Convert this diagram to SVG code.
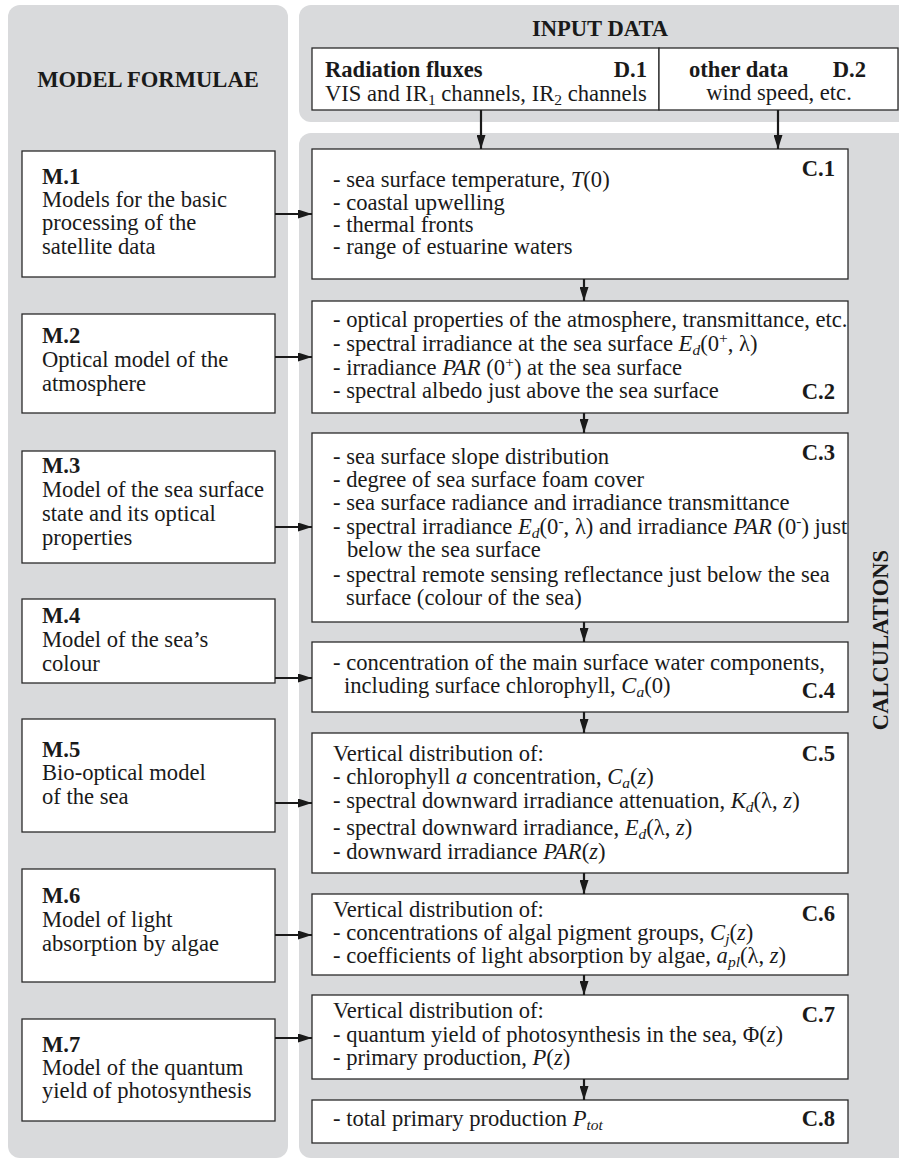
<svg xmlns="http://www.w3.org/2000/svg" width="899" height="1159" viewBox="0 0 899 1159">
  <style>
    text { font-family: "Liberation Serif", "Times New Roman", serif; font-size: 22.6px; fill: #1a1a1a; }
    .b { font-weight: bold; }
    .i { font-style: italic; }
    .panel { fill: #d9dadc; }
    .box { fill: #ffffff; stroke: #2a2a2a; stroke-width: 1.3; }
    .arrow { stroke: #1a1a1a; stroke-width: 2.2; fill: none; marker-end: url(#head); }
    .sub { font-size: 15.5px; }
  </style>
  <defs>
    <marker id="head" markerUnits="userSpaceOnUse" markerWidth="15" markerHeight="9" refX="14" refY="4.5" orient="auto">
      <path d="M0,0 L14,4.5 L0,9 z" fill="#1a1a1a"/>
    </marker>
  </defs>

  <rect width="899" height="1159" fill="#ffffff"/>

  <!-- background panels -->
  <g id="panels">
    <rect class="panel" x="8" y="5" width="280" height="1153" rx="12"/>
    <rect class="panel" x="299" y="5" width="620" height="117" rx="12"/>
    <rect class="panel" x="299" y="133" width="620" height="1025" rx="12"/>
    <text class="b" x="148" y="87" text-anchor="middle">MODEL FORMULAE</text>
    <text class="b" x="600" y="36" text-anchor="middle">INPUT DATA</text>
    <text class="b" transform="translate(888,640) rotate(-90)" text-anchor="middle">CALCULATIONS</text>
  </g>

  <!-- input data -->
  <g id="D1">
    <rect class="box" x="312" y="48" width="347" height="62"/>
    <text class="b" x="325" y="77">Radiation fluxes</text>
    <text class="b" x="647" y="77" text-anchor="end">D.1</text>
    <text x="325" y="101">VIS and IR<tspan class="sub" dy="4">1</tspan><tspan dy="-4"> channels, IR</tspan><tspan class="sub" dy="4">2</tspan><tspan dy="-4"> channels</tspan></text>
  </g>
  <g id="D2">
    <rect class="box" x="659" y="48" width="239" height="62"/>
    <text class="b" x="689" y="77">other data</text>
    <text class="b" x="866" y="77" text-anchor="end">D.2</text>
    <text x="779" y="100" text-anchor="middle">wind speed, etc.</text>
  </g>

  <!-- model formulae -->
  <g id="M1">
    <rect class="box" x="22" y="151" width="253" height="126"/>
    <text class="b" x="42" y="184">M.1</text>
    <text x="42" y="207">Models for the basic</text>
    <text x="42" y="230">processing of the</text>
    <text x="42" y="254">satellite data</text>
  </g>
  <g id="M2">
    <rect class="box" x="22" y="314" width="253" height="99"/>
    <text class="b" x="42" y="343">M.2</text>
    <text x="42" y="367">Optical model of the</text>
    <text x="42" y="391">atmosphere</text>
  </g>
  <g id="M3">
    <rect class="box" x="22" y="451" width="253" height="112"/>
    <text class="b" x="42" y="473">M.3</text>
    <text x="42" y="497">Model of the sea surface</text>
    <text x="42" y="521">state and its optical</text>
    <text x="42" y="545">properties</text>
  </g>
  <g id="M4">
    <rect class="box" x="22" y="599" width="253" height="84"/>
    <text class="b" x="42" y="623">M.4</text>
    <text x="42" y="647">Model of the sea’s</text>
    <text x="42" y="671">colour</text>
  </g>
  <g id="M5">
    <rect class="box" x="22" y="719" width="253" height="113"/>
    <text class="b" x="42" y="757">M.5</text>
    <text x="42" y="780">Bio-optical model</text>
    <text x="42" y="804">of the sea</text>
  </g>
  <g id="M6">
    <rect class="box" x="22" y="869" width="253" height="113"/>
    <text class="b" x="42" y="903">M.6</text>
    <text x="42" y="927">Model of light</text>
    <text x="42" y="951">absorption by algae</text>
  </g>
  <g id="M7">
    <rect class="box" x="22" y="1019" width="253" height="102"/>
    <text class="b" x="42" y="1052">M.7</text>
    <text x="42" y="1075">Model of the quantum</text>
    <text x="42" y="1098">yield of photosynthesis</text>
  </g>

  <!-- calculations -->
  <g id="C1">
    <rect class="box" x="312" y="149" width="536" height="130"/>
    <text class="b" x="835" y="176" text-anchor="end">C.1</text>
    <text x="333" y="187">- sea surface temperature, <tspan class="i">T</tspan>(0)</text>
    <text x="333" y="210">- coastal upwelling</text>
    <text x="333" y="232">- thermal fronts</text>
    <text x="333" y="254">- range of estuarine waters</text>
  </g>
  <g id="C2">
    <rect class="box" x="312" y="301" width="536" height="112"/>
    <text x="333" y="327">- optical properties of the atmosphere, transmittance, etc.</text>
    <text x="333" y="351">- spectral irradiance at the sea surface <tspan class="i">E</tspan><tspan class="i sub" dy="4">d</tspan><tspan dy="-4">(0</tspan><tspan class="sub" dy="-8">+</tspan><tspan dy="8">, λ)</tspan></text>
    <text x="333" y="375">- irradiance <tspan class="i">PAR</tspan> (0<tspan class="sub" dy="-8">+</tspan><tspan dy="8">) at the sea surface</tspan></text>
    <text x="333" y="398">- spectral albedo just above the sea surface</text>
    <text class="b" x="835" y="399" text-anchor="end">C.2</text>
  </g>
  <g id="C3">
    <rect class="box" x="312" y="433" width="536" height="189"/>
    <text class="b" x="835" y="460" text-anchor="end">C.3</text>
    <text x="333" y="464">- sea surface slope distribution</text>
    <text x="333" y="487">- degree of sea surface foam cover</text>
    <text x="333" y="510">- sea surface radiance and irradiance transmittance</text>
    <text x="333" y="534">- spectral irradiance <tspan class="i">E</tspan><tspan class="i sub" dy="4">d</tspan><tspan dy="-4">(0</tspan><tspan class="sub" dy="-8">-</tspan><tspan dy="8">, λ) and irradiance </tspan><tspan class="i">PAR</tspan> (0<tspan class="sub" dy="-8">-</tspan><tspan dy="8">) just</tspan></text>
    <text x="347" y="557">below the sea surface</text>
    <text x="333" y="582">- spectral remote sensing reflectance just below the sea</text>
    <text x="346" y="605">surface (colour of the sea)</text>
  </g>
  <g id="C4">
    <rect class="box" x="312" y="642" width="536" height="70"/>
    <text x="333" y="670">- concentration of the main surface water components,</text>
    <text x="344" y="693">including surface chlorophyll, <tspan class="i">C</tspan><tspan class="i sub" dy="4">a</tspan><tspan dy="-4">(0)</tspan></text>
    <text class="b" x="835" y="698" text-anchor="end">C.4</text>
  </g>
  <g id="C5">
    <rect class="box" x="312" y="733" width="536" height="140"/>
    <text class="b" x="835" y="761" text-anchor="end">C.5</text>
    <text x="333" y="761">Vertical distribution of:</text>
    <text x="333" y="784">- chlorophyll <tspan class="i">a</tspan> concentration, <tspan class="i">C</tspan><tspan class="i sub" dy="4">a</tspan><tspan dy="-4">(</tspan><tspan class="i">z</tspan>)</text>
    <text x="333" y="808">- spectral downward irradiance attenuation,  <tspan class="i">K</tspan><tspan class="i sub" dy="4">d</tspan><tspan dy="-4">(λ, </tspan><tspan class="i">z</tspan>)</text>
    <text x="333" y="835">- spectral downward irradiance,  <tspan class="i">E</tspan><tspan class="i sub" dy="4">d</tspan><tspan dy="-4">(λ, </tspan><tspan class="i">z</tspan>)</text>
    <text x="333" y="859">- downward irradiance <tspan class="i">PAR</tspan>(<tspan class="i">z</tspan>)</text>
  </g>
  <g id="C6">
    <rect class="box" x="312" y="894" width="536" height="81"/>
    <text class="b" x="835" y="921" text-anchor="end">C.6</text>
    <text x="333" y="917">Vertical distribution of:</text>
    <text x="333" y="940">- concentrations of algal pigment groups, <tspan class="i">C</tspan><tspan class="i sub" dy="4">j</tspan><tspan dy="-4">(</tspan><tspan class="i">z</tspan>)</text>
    <text x="333" y="963">- coefficients of light absorption by algae, <tspan class="i">a</tspan><tspan class="i sub" dy="4">pl</tspan><tspan dy="-4">(λ, </tspan><tspan class="i">z</tspan>)</text>
  </g>
  <g id="C7">
    <rect class="box" x="312" y="995" width="536" height="84"/>
    <text class="b" x="835" y="1022" text-anchor="end">C.7</text>
    <text x="333" y="1018">Vertical distribution of:</text>
    <text x="333" y="1042">- quantum yield of photosynthesis in the sea, Φ(<tspan class="i">z</tspan>)</text>
    <text x="333" y="1065">- primary production, <tspan class="i">P</tspan>(<tspan class="i">z</tspan>)</text>
  </g>
  <g id="C8">
    <rect class="box" x="312" y="1100" width="536" height="43"/>
    <text x="333" y="1126">- total primary production <tspan class="i">P</tspan><tspan class="i sub" dy="4">tot</tspan></text>
    <text class="b" x="835" y="1126" text-anchor="end">C.8</text>
  </g>

  <!-- connectors -->
  <g id="connectors">
    <line class="arrow" x1="481" y1="110" x2="481" y2="149"/>
    <line class="arrow" x1="778" y1="110" x2="778" y2="149"/>
    <line class="arrow" x1="275" y1="214" x2="312" y2="214"/>
    <line class="arrow" x1="275" y1="357" x2="312" y2="357"/>
    <line class="arrow" x1="275" y1="527" x2="312" y2="527"/>
    <line class="arrow" x1="275" y1="678" x2="312" y2="678"/>
    <line class="arrow" x1="275" y1="803" x2="312" y2="803"/>
    <line class="arrow" x1="275" y1="935" x2="312" y2="935"/>
    <line class="arrow" x1="275" y1="1038" x2="312" y2="1038"/>
    <line class="arrow" x1="584" y1="279" x2="584" y2="301"/>
    <line class="arrow" x1="584" y1="413" x2="584" y2="433"/>
    <line class="arrow" x1="584" y1="622" x2="584" y2="642"/>
    <line class="arrow" x1="584" y1="712" x2="584" y2="733"/>
    <line class="arrow" x1="584" y1="873" x2="584" y2="894"/>
    <line class="arrow" x1="584" y1="975" x2="584" y2="995"/>
    <line class="arrow" x1="584" y1="1079" x2="584" y2="1100"/>
  </g>
</svg>
